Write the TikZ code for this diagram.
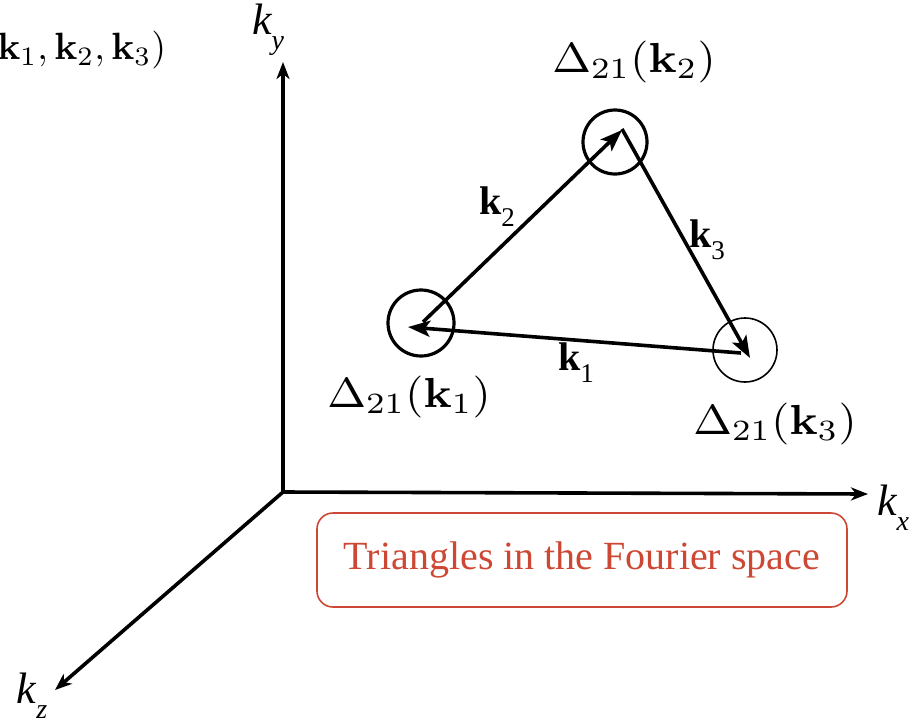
\documentclass[tikz,border=0pt]{standalone}
\usepackage{amsmath}
\usepackage[no-math]{fontspec}
\newfontfamily\tnr{Liberation Serif}
\usetikzlibrary{arrows.meta}
\definecolor{boxred}{RGB}{205,72,52}
\tikzset{
  axis/.style={line width=3.6pt,-{Stealth[length=17pt,width=13pt,inset=5pt]}},
  vec/.style={line width=3.6pt,-{Stealth[length=22pt,width=16pt,inset=5pt]}},
  ring/.style={circle,draw,line width=3.2pt,inner sep=0pt},
  axlab/.style={font=\tnr\fontsize{44}{50}\selectfont\itshape,inner sep=0pt},
  veclab/.style={font=\tnr\fontsize{40}{44}\selectfont,inner sep=0pt},
  dlab/.style={xscale=4.65,yscale=4.2,inner sep=0pt},
  toplab/.style={scale=3.8,inner sep=0pt},
}
\begin{document}
\begin{tikzpicture}[x=1pt,y=-1pt]
\useasboundingbox (0,0) rectangle (916,724);
% axes
\coordinate (O) at (283,492);
\coordinate (Y) at (283,62);
\coordinate (X) at (868,494);
\coordinate (Z) at (55,690);
\draw[axis] (O) -- (Y);
\draw[axis] (O) -- (X);
\draw[axis] (O) -- (Z);
\node[axlab] (ly) at (268,30) {k\raisebox{-0.35em}{\fontsize{28}{30}\selectfont y}};
\node[axlab] (lx) at (893,508) {k\raisebox{-0.35em}{\fontsize{28}{30}\selectfont x}};
\node[axlab] (lz) at (32,696) {k\raisebox{-0.35em}{\fontsize{28}{30}\selectfont z}};
% circles
\node[ring,minimum size=66pt] (c1) at (421,323) {};
\node[ring,minimum size=64pt] (c2) at (615,142) {};
\node[ring,line width=1.6pt,minimum size=64pt] (c3) at (745,350) {};
% vectors
\coordinate (a1) at (423,322);
\coordinate (b2) at (622,130);
\coordinate (a3) at (622,129);
\coordinate (b3) at (750,358);
\coordinate (a1s) at (741,353);
\coordinate (b1) at (408,327);
\draw[vec] (a1) -- (b2);
\draw[vec] (a3) -- (b3);
\draw[vec] (a1s) -- (b1);
\node[veclab] (k2) at (497,207) {\textbf{k}\raisebox{-0.3em}{\fontsize{27}{28}\selectfont 2}};
\node[veclab] (k3) at (707,240) {\textbf{k}\raisebox{-0.3em}{\fontsize{27}{28}\selectfont 3}};
\node[veclab] (k1) at (576,363) {\textbf{k}\raisebox{-0.3em}{\fontsize{27}{28}\selectfont 1}};
% Delta labels
\node[dlab] (d2) at (634,62) {$\Delta_{21}(\mathbf{k}_2)$};
\node[dlab] (d1) at (409,397) {$\Delta_{21}(\mathbf{k}_1)$};
\node[dlab] (d3) at (775,424) {$\Delta_{21}(\mathbf{k}_3)$};
\node[toplab,anchor=east] (top) at (167,50) {$(\mathbf{k}_1,\mathbf{k}_2,\mathbf{k}_3)$};
% box
\node[draw=boxred,line width=1.6pt,rounded corners=16pt,minimum width=530pt,minimum height=94pt,
  text=boxred,font=\tnr\fontsize{40}{44}\selectfont] (box) at (582,560) {Triangles in the Fourier space};
\end{tikzpicture}
\end{document}
